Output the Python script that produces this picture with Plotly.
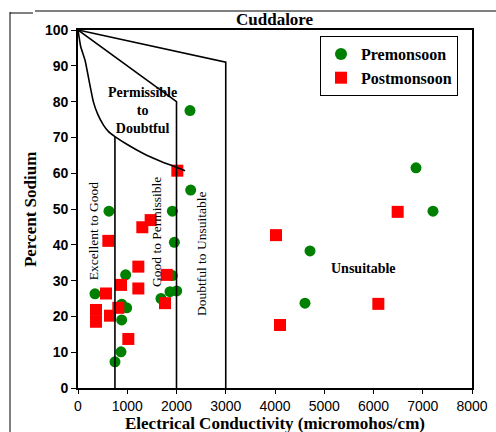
import plotly.graph_objects as go

# ---- data ----
pre_ec = [2274, 2288, 629, 1916, 1957, 968, 1916, 345, 1868, 2004, 1685, 887, 988, 887, 873, 751,
          6863, 7208, 4711, 4609]
pre_na = [77.5, 55.3, 49.4, 49.4, 40.7, 31.6, 31.4, 26.3, 26.9, 27.1, 25.0, 23.4, 22.4, 19.0, 10.1, 7.3,
          61.5, 49.4, 38.3, 23.7]

post_ec = [2017, 1475, 1306, 616, 1225, 1800, 873, 1225, 569, 1766, 819, 365, 650, 365, 1022,
           6491, 4020, 6098, 4102]
post_na = [60.7, 46.9, 44.9, 41.1, 33.9, 31.6, 28.8, 27.8, 26.4, 23.7, 22.4, 21.8, 20.2, 18.5, 13.7,
           49.2, 42.7, 23.5, 17.6]

# Wilcox boundary lines (EC, %Na)
curve_ec = [0, 54, 142, 244, 311, 400, 514, 620, 750, 1000, 1326, 1700, 1970, 2173]
curve_na = [100, 95.4, 91.6, 84.5, 80.0, 76.5, 73.5, 71.6, 70.2, 68.0, 65.5, 63.2, 61.8, 60.7]
mid_ec = [0, 2000, 2000]
mid_na = [100, 80, 0]
top_ec = [0, 3000, 3000]
top_na = [100, 91, 0]
exc_ec = [750, 750]
exc_na = [70.2, 0]

x_ticks = [0, 1000, 2000, 3000, 4000, 5000, 6000, 7000, 8000]
y_ticks = [0, 10, 20, 30, 40, 50, 60, 70, 80, 90, 100]

SERIF = "Liberation Serif"
SANS = "Liberation Sans"

fig = go.Figure()
fig.add_trace(go.Scatter(x=pre_ec, y=pre_na, mode="markers", name="Premonsoon",
                         marker=dict(symbol="circle", size=11, color="#008000")))
fig.add_trace(go.Scatter(x=post_ec, y=post_na, mode="markers", name="Postmonsoon",
                         marker=dict(symbol="square", size=12, color="#ff0000")))
line_style = dict(color="black", width=1.6)
fig.add_trace(go.Scatter(x=curve_ec, y=curve_na, mode="lines",
                         line=dict(color="black", width=1.6, shape="spline", smoothing=0.4),
                         showlegend=False, hoverinfo="skip"))
for xs, ys in [(mid_ec, mid_na), (top_ec, top_na), (exc_ec, exc_na)]:
    fig.add_trace(go.Scatter(x=xs, y=ys, mode="lines", line=line_style, showlegend=False, hoverinfo="skip"))

ann = [
    dict(x=0.5, y=1.03, xref="paper", yref="paper", text="<b>Cuddalore</b>", showarrow=False,
         font=dict(family=SERIF, size=17, color="black"), xanchor="center", yanchor="middle"),
    dict(x=1310, y=77.5, text="<b>Permissible<br>to<br>Doubtful</b>", showarrow=False,
         font=dict(family=SERIF, size=14, color="black"), align="center"),
    dict(x=305, y=43.8, text="Excellent to Good", textangle=-90, showarrow=False,
         font=dict(family=SERIF, size=13.5, color="black")),
    dict(x=1604, y=43.6, text="Good to Permissible", textangle=-90, showarrow=False,
         font=dict(family=SERIF, size=13.5, color="black")),
    dict(x=2511, y=37.6, text="Doubtful to Unsuitable", textangle=-90, showarrow=False,
         font=dict(family=SERIF, size=13.5, color="black")),
    dict(x=5787, y=33.5, text="<b>Unsuitable</b>", showarrow=False,
         font=dict(family=SERIF, size=14, color="black")),
    dict(x=0.5, y=(388 - 423) / 358, xref="paper", yref="paper",
         text="<b>Electrical Conductivity (micromohos/cm)</b>",
         showarrow=False, font=dict(family=SERIF, size=17, color="black"), xanchor="center", yanchor="middle"),
    dict(x=(30 - 78) / 394, y=0.497, xref="paper", yref="paper", text="<b>Percent Sodium</b>", textangle=-90,
         showarrow=False, font=dict(family=SERIF, size=17, color="black"), xanchor="center", yanchor="middle"),
]

# page frame lines (paper coords: x=(px-78)/394, y=(388-py)/358)
def px(v):
    return (v - 78) / 394

def py(v):
    return (388 - v) / 358

shapes = [
    dict(type="line", xref="paper", yref="paper", x0=px(10), x1=px(10), y0=py(12), y1=py(432),
         line=dict(color="black", width=1)),
    dict(type="line", xref="paper", yref="paper", x0=px(10), x1=px(33), y0=py(13), y1=py(13),
         line=dict(color="black", width=1)),
    dict(type="line", xref="paper", yref="paper", x0=px(35), x1=px(496), y0=py(11), y1=py(11),
         line=dict(color="black", width=1)),
]

fig.update_layout(
    width=496, height=432,
    margin=dict(l=78, r=24, t=30, b=44, autoexpand=False),
    paper_bgcolor="white", plot_bgcolor="white",
    annotations=ann, shapes=shapes,
    legend=dict(x=px(320), y=py(36), xanchor="left", yanchor="top",
                bordercolor="black", borderwidth=1, bgcolor="white",
                font=dict(family=SERIF, size=16, color="black", weight="bold"),
                tracegroupgap=0, itemsizing="constant"),
    xaxis=dict(range=[0, 8000], tickvals=x_ticks, showgrid=False, zeroline=False, automargin=False,
               showline=True, linecolor="black", linewidth=1.6, mirror=True,
               ticks="outside", ticklen=4, tickcolor="black",
               tickfont=dict(family=SANS, size=14, color="black")),
    yaxis=dict(range=[0, 100], tickvals=y_ticks, showgrid=False, zeroline=False, automargin=False,
               showline=True, linecolor="black", linewidth=1.6, mirror=True,
               ticks="outside", ticklen=5, tickcolor="black",
               tickfont=dict(family=SANS, size=14, color="black", weight="bold")),
    showlegend=True,
)

fig.write_html("out.html")
